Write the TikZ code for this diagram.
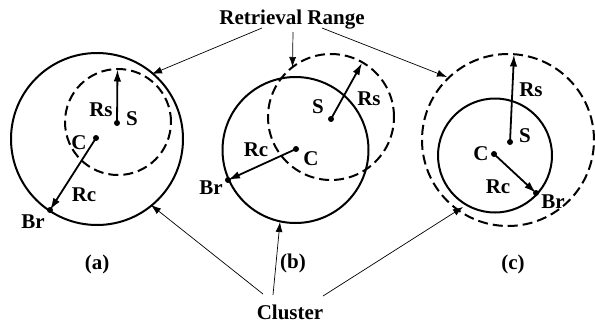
\documentclass[tikz,border=0pt]{standalone}
\usepackage{fontspec}
\setmainfont{Liberation Serif}
\usetikzlibrary{arrows.meta}
\tikzset{
  lbl/.style={font=\fontsize{21}{24}\selectfont\bfseries, inner sep=0pt},
  clus/.style={line width=2pt},
  rng/.style={line width=2pt, dash pattern=on 10pt off 5pt},
  radarrow/.style={line width=1.8pt, -{Latex[length=12pt,width=7.5pt]}},
  pointer/.style={line width=0.7pt, -{Latex[length=10pt,width=7pt]}},
  dotc/.style={fill=black}
}
\begin{document}
\begin{tikzpicture}[x=1pt,y=-1pt]
\useasboundingbox (0,0) rectangle (595,325);
% ---------------- panel (a)
\coordinate (ca) at (97,139);
\coordinate (sa) at (118,122);
\draw[clus] (ca) circle[radius=86pt];
\draw[rng] (sa) circle[radius=53pt];
\coordinate (Sa) at (117,123);
\coordinate (Ca) at (96,138);
\coordinate (RsA) at (117.5,69.5);
\coordinate (BrA) at (50,210);
\draw[radarrow] (Sa) -- (RsA);
\draw[radarrow] (Ca) -- (BrA);
\fill[dotc] (Sa) circle[radius=3pt];
\fill[dotc] (Ca) circle[radius=3pt];
\fill[dotc] (BrA) circle[radius=3pt];
\node[lbl] (rsa) at (101,110) {Rs};
\node[lbl] (sla) at (132,119) {S};
\node[lbl] (cla) at (79,143) {C};
\node[lbl] (rca) at (84,195) {Rc};
\node[lbl] (bra) at (33,222) {Br};
\node[lbl] (lab) at (97,264) {(a)};
% ---------------- panel (b)
\coordinate (cb) at (295.5,150);
\coordinate (sb) at (331,117);
\draw[clus] (cb) circle[radius=73pt];
\draw[rng] (sb) circle[radius=63pt];
\coordinate (Sb) at (331,119);
\coordinate (Cb) at (296,149);
\coordinate (RsB) at (362,63);
\coordinate (BrB) at (228,180);
\draw[radarrow] (Sb) -- (RsB);
\draw[radarrow] (Cb) -- (BrB);
\fill[dotc] (Sb) circle[radius=3pt];
\fill[dotc] (Cb) circle[radius=3pt];
\fill[dotc] (BrB) circle[radius=3pt];
\node[lbl] (slb) at (318,107) {S};
\node[lbl] (rsb) at (369,99) {Rs};
\node[lbl] (clb) at (311,159) {C};
\node[lbl] (rcb) at (256,150) {Rc};
\node[lbl] (brb) at (211,188) {Br};
\node[lbl] (lbb) at (293,263) {(b)};
% ---------------- panel (c)
\coordinate (cc) at (495,155.5);
\coordinate (sc) at (508,140);
\draw[clus] (cc) circle[radius=57pt];
\draw[rng] (sc) circle[radius=86pt];
\coordinate (Sc) at (510,142);
\coordinate (Cc) at (494,154);
\coordinate (RsC) at (514,54.5);
\coordinate (BrC) at (536,193);
\draw[radarrow] (Sc) -- (RsC);
\draw[radarrow] (Cc) -- (BrC);
\fill[dotc] (Sc) circle[radius=3pt];
\fill[dotc] (Cc) circle[radius=3pt];
\fill[dotc] (BrC) circle[radius=3pt];
\node[lbl] (rsc) at (531,90) {Rs};
\node[lbl] (slc) at (525,136) {S};
\node[lbl] (clc) at (481,154) {C};
\node[lbl] (rcc) at (498,187) {Rc};
\node[lbl] (brc) at (553,202) {Br};
\node[lbl] (lbc) at (513,264) {(c)};
% ---------------- callouts
\node[lbl, anchor=base] (RR) at (292,24) {Retrieval Range};
\node[lbl, anchor=base] (CL) at (290,319) {Cluster};
\coordinate (rrA) at (262,28);
\coordinate (rrB) at (293,32);
\coordinate (rrC) at (322,28);
\coordinate (tA) at (152,74);
\coordinate (tB) at (292.5,67);
\coordinate (tC) at (447,77);
\draw[pointer] (rrA) -- (tA);
\draw[pointer] (rrB) -- (tB);
\draw[pointer] (rrC) -- (tC);
\coordinate (clA) at (263,294);
\coordinate (clB) at (273,295);
\coordinate (clC) at (323,296);
\coordinate (uA) at (151,205);
\coordinate (uB) at (280,222);
\coordinate (uC) at (463,207);
\draw[pointer] (clA) -- (uA);
\draw[pointer] (clB) -- (uB);
\draw[pointer] (clC) -- (uC);
\end{tikzpicture}
\end{document}
